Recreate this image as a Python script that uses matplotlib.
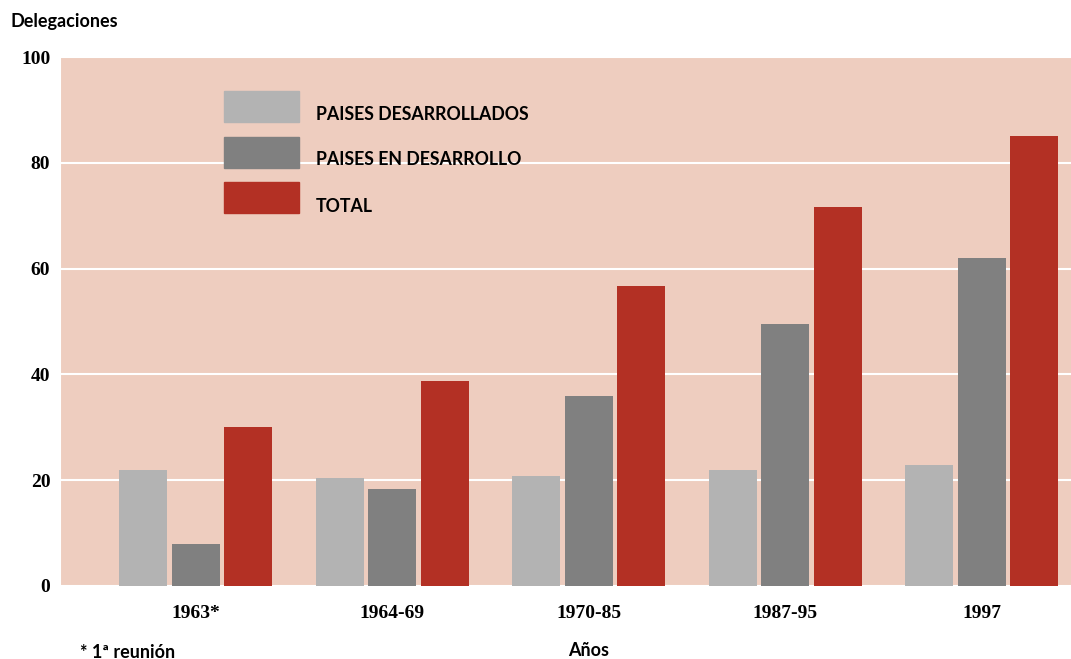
import numpy as np
import matplotlib.pyplot as plt
import matplotlib.patches as mpatches

periodos = ["1963*", "1964-69", "1970-85", "1987-95", "1997"]
desarrollados = [22, 20.4, 20.8, 22, 22.9]
en_desarrollo = [8, 18.3, 35.9, 49.5, 62]
total = [30, 38.8, 56.7, 71.6, 85]

series = ["PAISES DESARROLLADOS", "PAISES EN DESARROLLO", "TOTAL"]
colores = ["#b3b3b3", "#808080", "#b33024"]
fondo = "#eecdbf"

SANS = ["Lato", "DejaVu Sans"]
SERIF = ["Liberation Serif", "DejaVu Serif"]

fig = plt.figure(figsize=(10.71, 6.59), dpi=100)
ax = fig.add_axes([60 / 1071, 73 / 659, 1011 / 1071, 529 / 659])
ax.set_facecolor(fondo)

x = np.arange(len(periodos))
w = 0.244
off = 0.267
for i, vals in enumerate([desarrollados, en_desarrollo, total]):
    ax.bar(x + (i - 1) * off, vals, width=w, color=colores[i], zorder=3)

ax.set_xlim(-0.69, 4.455)
ax.set_ylim(0, 100)
ax.set_yticks([0, 20, 40, 60, 80, 100])
ax.yaxis.grid(True, color="white", linewidth=1.5, zorder=1)
ax.set_axisbelow(True)
for s in ["top", "right", "bottom"]:
    ax.spines[s].set_visible(False)
ax.spines["left"].set_color("white")
ax.spines["left"].set_linewidth(1.5)
ax.tick_params(axis="y", length=0, pad=7)
ax.tick_params(axis="x", length=0, pad=14)
ax.set_xticks(x)
ax.set_xticklabels(periodos)
for lab in ax.get_xticklabels() + ax.get_yticklabels():
    lab.set_fontfamily(SERIF)
    lab.set_fontweight("bold")
    lab.set_fontsize(14)

# leyenda
for i, nombre in enumerate(series):
    y0 = 1 - (122 + i * 45.5) / 659
    fig.patches.append(mpatches.Rectangle((224 / 1071, y0), 75 / 1071, 31 / 659,
                                          transform=fig.transFigure, color=colores[i]))
    fig.text(316 / 1071, 1 - (114 + i * 46) / 659, nombre, family=SANS, weight="bold",
             fontsize=12.8, va="center", ha="left")

fig.text(11 / 1071, 1 - 21 / 659, "Delegaciones", family=SANS, weight="bold",
         fontsize=13, va="center", ha="left")
fig.text(589 / 1071, 1 - 651 / 659, "Años", family=SANS, weight="bold",
         fontsize=13, va="center", ha="center")
fig.text(80 / 1071, 1 - 652 / 659, "* 1ª reunión", family=SANS, weight="bold",
         fontsize=13, va="center", ha="left")

fig.savefig("out.png", dpi=100, facecolor="white")
